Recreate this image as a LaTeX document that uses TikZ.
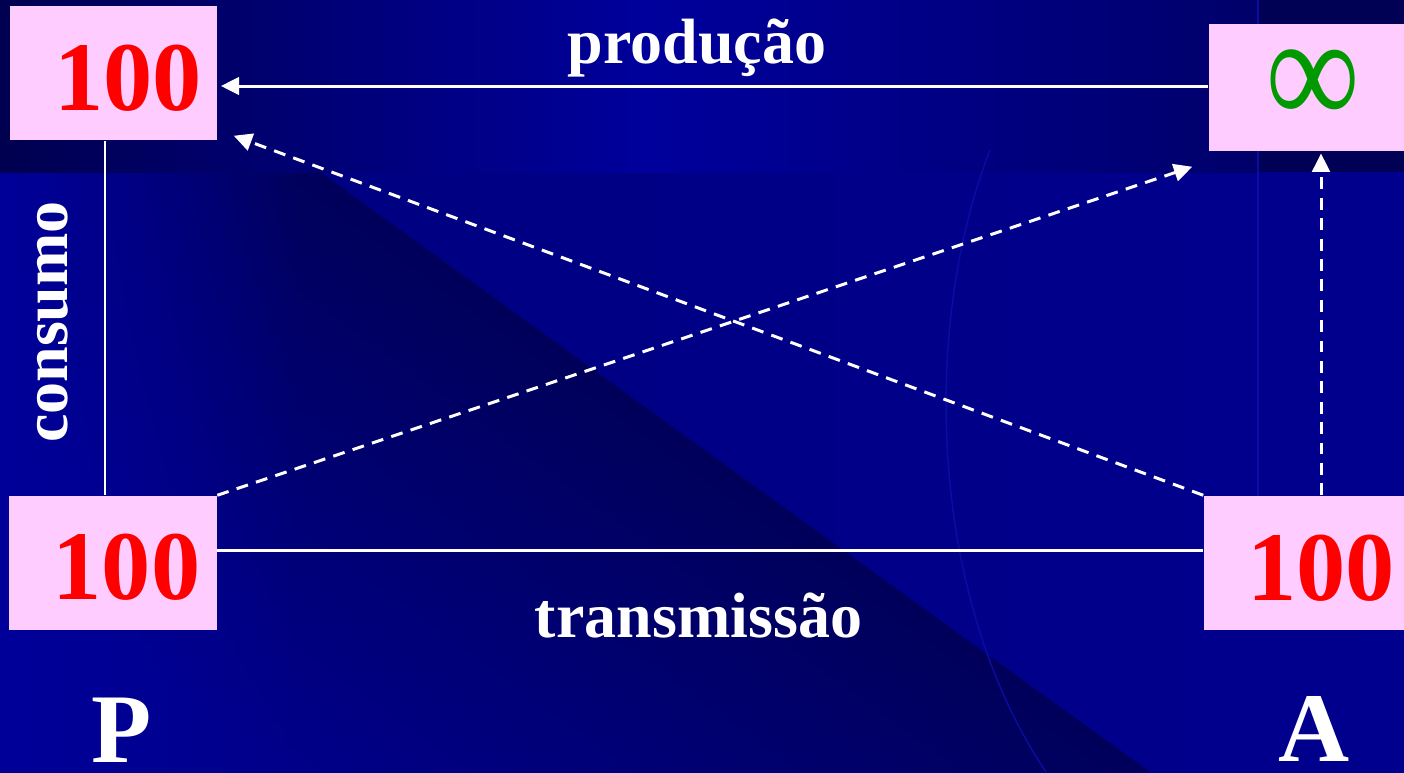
\documentclass[tikz,border=0pt]{standalone}
\usepackage{fontspec}
\setmainfont{Liberation Serif}
\usetikzlibrary{arrows.meta,calc,fadings}
\definecolor{boxpink}{HTML}{FFCCFF}
\definecolor{numred}{HTML}{FF0000}
\definecolor{infgreen}{HTML}{009900}
\definecolor{bandA}{HTML}{000050}
\definecolor{bandB}{HTML}{00009C}
\definecolor{bandC}{HTML}{00006A}
\definecolor{bandD}{HTML}{000055}
\definecolor{lowL}{HTML}{00007E}
\definecolor{lowR}{HTML}{00008E}
\definecolor{ribDark}{HTML}{00003C}
\definecolor{ribBright}{HTML}{00008A}
\definecolor{edgeBright}{HTML}{00009A}
\definecolor{faint}{HTML}{0C0CA4}
\begin{document}
\begin{tikzpicture}[x=0.01cm,y=-0.01cm,
  box/.style={fill=boxpink, draw=none, minimum width=2.07cm, minimum height=1.34cm, inner sep=0pt},
  num/.style={text=numred, font=\fontsize{28}{28}\selectfont\bfseries, inner sep=0pt, anchor=base},
  lbl/.style={text=white, font=\fontsize{18.2}{18.2}\selectfont\bfseries, inner sep=0pt, anchor=base},
  big/.style={text=white, font=\fontsize{28}{28}\selectfont\bfseries, inner sep=0pt, anchor=base},
  conn/.style={white, line width=0.85pt},
  dconn/.style={conn, dash pattern=on 3.4pt off 2.4pt},
  tip/.style={-{Triangle[length=5.2pt,width=5pt]}},
  faintline/.style={faint, line width=0.4pt}
]
% ---------- background ----------
\path[use as bounding box] (0,0) rectangle (1404,772);
\shade[left color=lowL, right color=lowR] (0,172) rectangle (1404,772);
\shade[top color=ribDark, bottom color=ribBright, shading angle=-35.9]
  (0,172) -- (320,172) -- (1150,772) -- (0,772) -- cycle;
\begin{scope}
  \clip (0,172) -- (320,172) -- (1150,772) -- (0,772) -- cycle;
  \fill[edgeBright, path fading=east] (0,172) rectangle (300,772);
\end{scope}
\shade[left color=bandA, right color=bandB] (0,0) rectangle (650,172);
\shade[left color=bandB, right color=bandC] (650,0) rectangle (1258,172);
\fill[bandD] (1258,0) rectangle (1404,172);
\draw[faintline] (990,150) .. controls (920,330) and (930,600) .. (1046,772);
\draw[faintline] (1258,0) -- (1258,496);
% ---------- boxes ----------
\node[box] (tl) at (113.5,73) {};
\node[box, minimum height=1.27cm] (tr) at (1312.5,87.5) {};
\node[box] (bl) at (113,563) {};
\node[box] (br) at (1307.5,563) {};
\node[num] (tlnum) at (128,110) {100};
\node[num] (blnum) at (126.5,599) {100};
\node[num] (brnum) at (1321,600) {100};
\node[text=infgreen, font=\fontsize{34}{34}\selectfont\bfseries, inner sep=0pt] (inf) at (1313,88) {\scalebox{1.07}[1.32]{∞}};
% ---------- labels ----------
\node[lbl] (prod) at (697,63) {produção};
\node[lbl] (trans) at (698.5,637) {transmissão};
\node[lbl, rotate=90] (cons) at (67,322) {consumo};
\node[big] (P) at (122,762) {P};
\node[big] (A) at (1314.5,761) {A};
% ---------- connectors ----------
\draw[conn, tip, shorten >=0.9pt] (tr.west |- 0,86) -- (tl.east |- 0,86);
\draw[conn] (tl.south -| 105,0) -- (bl.north -| 105,0);
\draw[conn] (bl.east |- 0,550) -- (br.west |- 0,550);
\coordinate (e1) at ($(tr.south west)+(-16,15)$);
\coordinate (e2) at ($(tl.south east)+(16,-5)$);
\draw[dconn, tip] (bl.north east) -- (e1);
\draw[dconn, tip] (br.north west) -- (e2);
\draw[dconn, tip, shorten >=0.5pt] (br.north -| 1321,0) -- (tr.south -| 1321,0);
\end{tikzpicture}
\end{document}
